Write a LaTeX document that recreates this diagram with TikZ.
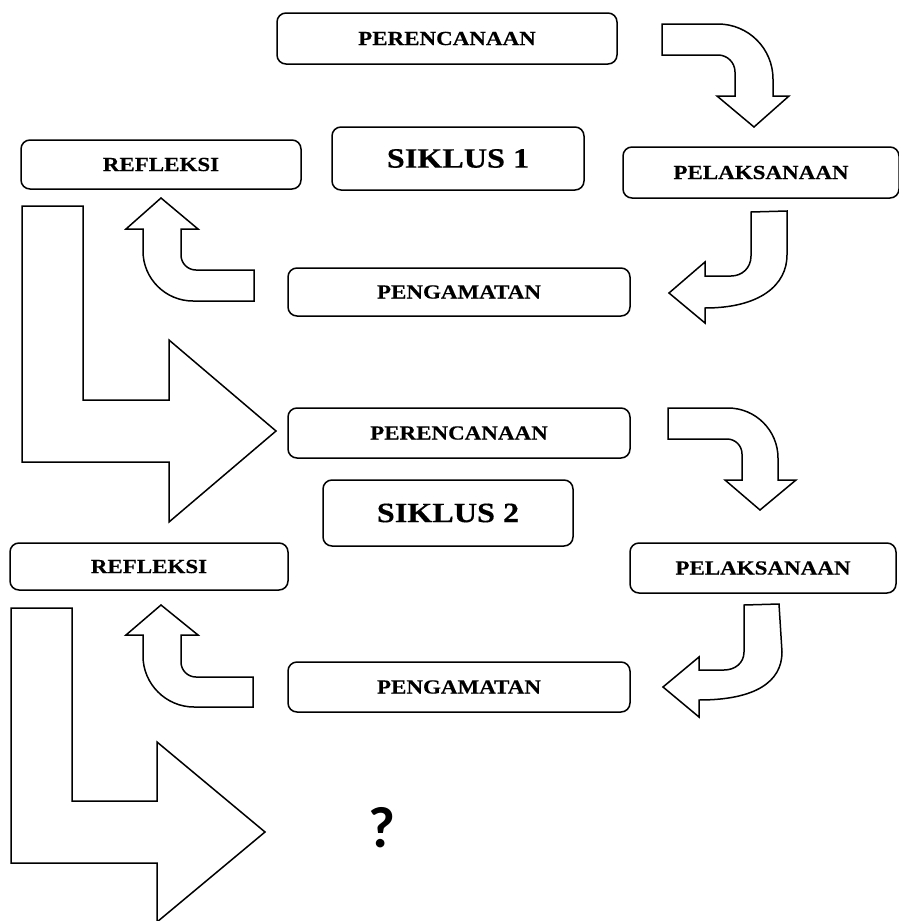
\documentclass[tikz,border=0pt]{standalone}
\usepackage{fontspec}
\setmainfont{Liberation Serif}[FakeStretch=1.15,BoldFeatures={FakeBold=0.4}]
\newfontfamily\tanyafont{Carlito}
\usepackage{tikz}

\begin{document}
\begin{tikzpicture}[x=1pt,y=-1pt,line width=1.5pt,line join=miter,
  tahap/.style={draw,rounded corners=9pt,inner sep=0pt,font=\bfseries\fontsize{20}{24}\selectfont},
  siklus/.style={tahap,font=\bfseries\fontsize{28}{32}\selectfont}]
  \useasboundingbox (0,0) rectangle (898,921);

  \node[tahap,minimum width=340pt,minimum height=51pt] (per1) at (447,38.5) {PERENCANAAN};
  \node[tahap,minimum width=280pt,minimum height=49pt] (ref1) at (161,164.5) {REFLEKSI};
  \node[siklus,minimum width=252pt,minimum height=63pt] (sik1) at (458,158.5) {SIKLUS 1};
  \node[tahap,minimum width=276pt,minimum height=51pt] (pel1) at (761,172.5) {PELAKSANAAN};
  \node[tahap,minimum width=342pt,minimum height=48pt] (pen1) at (459,292) {PENGAMATAN};

  \node[tahap,minimum width=342pt,minimum height=50pt] (per2) at (459,433) {PERENCANAAN};
  \node[siklus,minimum width=250pt,minimum height=66pt] (sik2) at (448,513) {SIKLUS 2};
  \node[tahap,minimum width=278pt,minimum height=47pt] (ref2) at (149,566.5) {REFLEKSI};
  \node[tahap,minimum width=266pt,minimum height=50pt] (pel2) at (763,568) {PELAKSANAAN};
  \node[tahap,minimum width=342pt,minimum height=50pt] (pen2) at (459,687) {PENGAMATAN};

  \node[font=\tanyafont\bfseries\fontsize{58}{60}\selectfont] (tanya) at (382,828) {?};

  \draw (662,24) -- (718,24) .. controls (748.4,24) and (773,48.6) .. (773,79) -- (773,96) -- (789,96)
    -- (754,127) -- (717,96) -- (735,96) -- (735,72) .. controls (735,62.6) and (727.4,55) .. (718,55)
    -- (662,55) -- cycle;
  \draw (751,212) -- (787,211) -- (787,255) .. controls (787,285) and (760,308) .. (705,308) -- (705,323)
    -- (669,293) -- (705,262) -- (705,276) -- (731,276) .. controls (742,276) and (751,268) .. (751,256) -- cycle;
  \draw (161,198) -- (198,229) -- (181,229) -- (181,255) .. controls (181,263.3) and (187.7,270) .. (196,270)
    -- (254,270) -- (254,301) -- (193,301) .. controls (165.4,301) and (143,278.6) .. (143,251)
    -- (143,229) -- (126,229) -- cycle;
  \draw (22,206) -- (83,206) -- (83,400) -- (169,400) -- (169,340) -- (276,431) -- (169,522)
    -- (169,462) -- (22,462) -- cycle;

  \draw (668,408) -- (728,408) .. controls (755.6,408) and (778,430.4) .. (778,458) -- (778,480) -- (796,480)
    -- (760,510) -- (725,480) -- (742,480) -- (742,454) .. controls (742,445.7) and (735.3,439) .. (727,439)
    -- (668,439) -- cycle;
  \draw (744,605) -- (779,604) -- (782,652) .. controls (782,682) and (755,700) .. (699,700) -- (699,717)
    -- (663,687) -- (699,657) -- (699,670) -- (724,670) .. controls (735,670) and (744,663) .. (744,652) -- cycle;
  \draw (161,605) -- (198,635) -- (181,635) -- (181,662) .. controls (181,670.3) and (187.7,677) .. (196,677)
    -- (253,677) -- (253,707) -- (194,707) .. controls (166,707) and (143,684) .. (143,656)
    -- (143,635) -- (126,635) -- cycle;
  \draw (11,608) -- (72,608) -- (72,801) -- (157,801) -- (157,742) -- (265,832) -- (157,922)
    -- (157,863) -- (11,863) -- cycle;
\end{tikzpicture}
\end{document}
